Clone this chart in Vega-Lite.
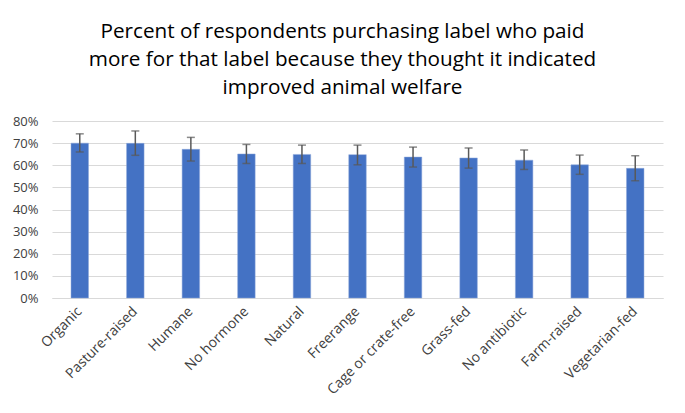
{
  "$schema": "https://vega.github.io/schema/vega-lite/v6.json",
  "width": 611,
  "height": 177,
  "autosize": {"type": "none"},
  "padding": {"left": 52, "top": 121, "right": 22, "bottom": 115},
  "background": "white",
  "title": {
    "text": ["Percent of respondents purchasing label who paid", "more for that label because they thought it indicated", "improved animal welfare"],
    "font": "Open Sans",
    "fontSize": 20.7,
    "fontWeight": "normal",
    "color": "#000000",
    "lineHeight": 28,
    "anchor": "middle",
    "dx": -15,
    "offset": 16
  },
  "data": {
    "values": [
      {"label": "Organic", "pct": 0.700, "lo": 0.660, "hi": 0.742},
      {"label": "Pasture-raised", "pct": 0.699, "lo": 0.645, "hi": 0.755},
      {"label": "Humane", "pct": 0.672, "lo": 0.619, "hi": 0.726},
      {"label": "No hormone", "pct": 0.651, "lo": 0.608, "hi": 0.694},
      {"label": "Natural", "pct": 0.649, "lo": 0.608, "hi": 0.691},
      {"label": "Freerange", "pct": 0.648, "lo": 0.602, "hi": 0.691},
      {"label": "Cage or crate-free", "pct": 0.637, "lo": 0.592, "hi": 0.682},
      {"label": "Grass-fed", "pct": 0.633, "lo": 0.587, "hi": 0.678},
      {"label": "No antibiotic", "pct": 0.623, "lo": 0.581, "hi": 0.669},
      {"label": "Farm-raised", "pct": 0.602, "lo": 0.559, "hi": 0.646},
      {"label": "Vegetarian-fed", "pct": 0.586, "lo": 0.530, "hi": 0.643}
    ]
  },
  "encoding": {
    "x": {
      "field": "label",
      "type": "nominal",
      "sort": null,
      "scale": {"paddingInner": 0, "paddingOuter": 0},
      "axis": {
        "title": null,
        "labelAngle": -45,
        "labelAlign": "right",
        "labelBaseline": "middle",
        "labelFont": "Open Sans",
        "labelFontSize": 14,
        "labelColor": "#404040",
        "labelPadding": 11,
        "ticks": false,
        "domainColor": "#d9d9d9",
        "domainWidth": 1,
        "grid": false
      }
    }
  },
  "layer": [
    {
      "mark": {"type": "bar", "color": "#4472C4", "width": 17.5, "stroke": "#8EA9DB", "strokeWidth": 0.5},
      "encoding": {
        "y": {
          "field": "pct",
          "type": "quantitative",
          "scale": {"domain": [0, 0.8]},
          "axis": {
            "title": null,
            "format": ".0%",
            "tickCount": 8,
            "labelFont": "Open Sans",
            "labelFontSize": 13,
            "labelColor": "#404040",
            "labelPadding": 14,
            "ticks": false,
            "domain": false,
            "gridColor": "#d9d9d9",
            "gridWidth": 1
          }
        }
      }
    },
    {
      "mark": {"type": "rule", "color": "#595959", "strokeWidth": 1.5},
      "encoding": {
        "y": {"field": "lo", "type": "quantitative"},
        "y2": {"field": "hi"}
      }
    },
    {
      "mark": {"type": "tick", "color": "#595959", "thickness": 1.5, "size": 8, "orient": "horizontal"},
      "encoding": {"y": {"field": "lo", "type": "quantitative"}}
    },
    {
      "mark": {"type": "tick", "color": "#595959", "thickness": 1.5, "size": 8, "orient": "horizontal"},
      "encoding": {"y": {"field": "hi", "type": "quantitative"}}
    }
  ],
  "config": {"view": {"stroke": null}}
}
